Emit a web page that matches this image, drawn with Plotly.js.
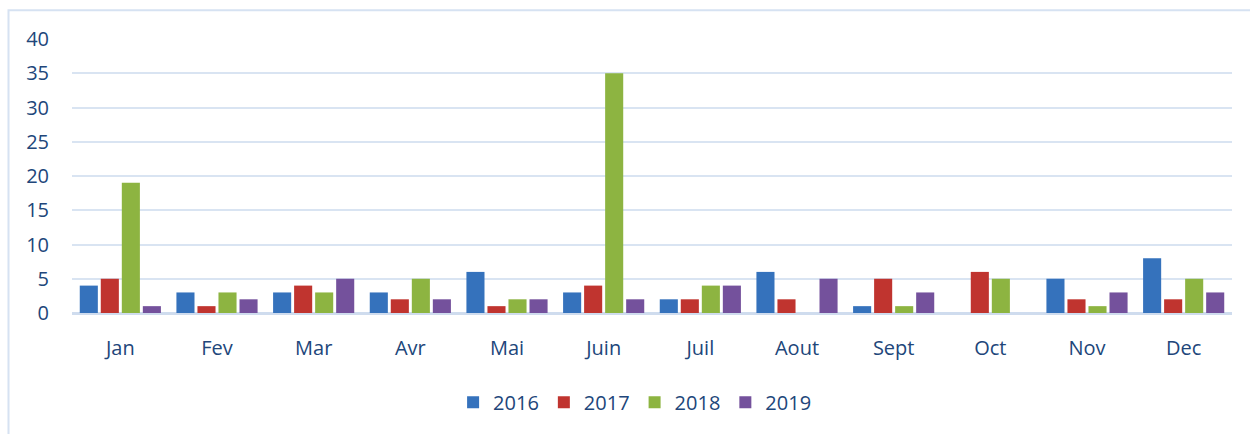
<!DOCTYPE html>
<html>
<head>
<meta charset="utf-8">
<script src="https://cdn.plot.ly/plotly-3.0.1.min.js"></script>
<style>
html,body{margin:0;padding:0;background:#fff;}
#chart{width:1250px;height:434px;}
</style>
</head>
<body>
<div id="chart"></div>
<script>
const months = ["Jan","Fev","Mar","Avr","Mai","Juin","Juil","Aout","Sept","Oct","Nov","Dec"];
const y2016 = [4,3,3,3,6,3,2,6,1,0,5,8];
const y2017 = [5,1,4,2,1,4,2,2,5,6,2,2];
const y2018 = [19,3,3,5,2,35,4,0,1,5,1,5];
const y2019 = [1,2,5,2,2,2,4,5,3,0,3,3];
const seriesNames = ["2016","2017","2018","2019"];
const colors = ["#3572bc","#c0342f","#8db441","#74519c"];

const vals = [y2016,y2017,y2018,y2019];
const traces = vals.map((v,i)=>({
  type:"bar", name:seriesNames[i], x:months, y:v,
  marker:{color:colors[i], line:{width:0}},
  hoverinfo:"x+y+name"
}));

const textColor = "#21467a";
const layout = {
  width:1250, height:434,
  margin:{l:72, r:18, t:39, b:115},
  paper_bgcolor:"#fff", plot_bgcolor:"#fff",
  font:{family:"Open Sans, Liberation Sans, sans-serif", size:20, color:textColor},
  barmode:"group", bargap:0.13, bargroupgap:0.14,
  xaxis:{showgrid:false, zeroline:false, showline:false, ticks:"", tickfont:{size:20,color:textColor}, ticklabelstandoff:21},
  yaxis:{range:[0,40], dtick:5, tick0:0, showgrid:true, gridcolor:"#d9e4f2", gridwidth:2,
         zeroline:true, zerolinecolor:"#cfdcee", zerolinewidth:3, showline:false, ticks:"",
         tickfont:{size:20,color:textColor}, ticklabelstandoff:22},
  showlegend:true,
  legend:{orientation:"h", x:0.485, xanchor:"center", y:-0.255, yanchor:"top",
          font:{size:20,color:textColor}, itemwidth:30, traceorder:"normal"},
  shapes:[{type:"rect", xref:"paper", yref:"paper",
           x0:(8.5-72)/1160, x1:(1260-72)/1160, y0:-0.7, y1:(319-9.5)/280,
           line:{color:"#d6e2f2", width:2}, fillcolor:"rgba(0,0,0,0)", layer:"below"}]
};
Plotly.newPlot("chart", traces, layout, {displayModeBar:false, staticPlot:true});
</script>
</body>
</html>
